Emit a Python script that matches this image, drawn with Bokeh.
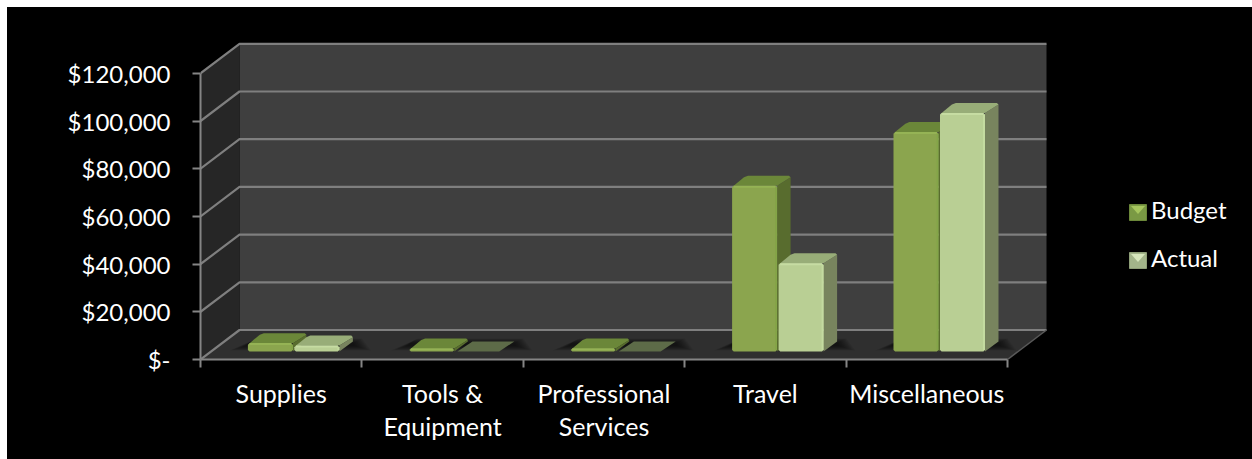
from bokeh.embed import file_html
from bokeh.models import FixedTicker, Legend, LegendItem, Range1d
from bokeh.plotting import figure
from bokeh.resources import INLINE

# Chart values
categories = ["Supplies", "Tools &\nEquipment", "Professional\nServices", "Travel", "Miscellaneous"]
budget = [3500, 1300, 1300, 69500, 92000]
actual = [2500, 0, 0, 37000, 100000]
y_ticks = [0, 20000, 40000, 60000, 80000, 100000, 120000]
y_labels = ["$-", "$20,000", "$40,000", "$60,000", "$80,000", "$100,000", "$120,000"]
series_names = ["Budget", "Actual"]

FONT = "Lato"

# Pixel geometry of the pseudo-3D box
WIDTH, HEIGHT = 1245, 452
LEFT, BASE = 193, 352            # frame origin inside the figure
CAT_PX = 161.4                   # one category along the front edge
TICK_PX = 47.7                   # one 20,000 step
sx = 1 / CAT_PX                  # category units per pixel
sy = 20000 / TICK_PX             # dollars per pixel

WALL_DX, WALL_DY = 39 * sx, 29.5 * sy      # box depth
FLOOR_DX, FLOOR_DY = 6.5 * sx, 8 * sy      # bar front plane relative to front edge
BAR_DX, BAR_DY = 13.5 * sx, 10 * sy        # bar depth
BAR_START = 47.4 * sx
BAR_W = 45 * sx
BAR_GAP = 1.5 * sx
R = 1.6                                    # bevel size in pixels

STYLE = {
    "Budget": dict(front="#8ba54e", edge="#84a548", hi="#95b355", top="#6b8739", side="#586c2e"),
    "Actual": dict(front="#b9cf94", edge="#c4dba0", hi="#c6dca2", top="#98ad78", side="#78845e"),
}
FLAT_TOP = "#5d6b48"

p = figure(
    width=WIDTH, height=HEIGHT, output_backend="svg", toolbar_location=None,
    x_range=Range1d(0, (WIDTH - LEFT) * sx), y_range=Range1d(0, BASE * sy),
    min_border_left=LEFT, min_border_top=0, min_border_right=0,
    min_border_bottom=HEIGHT - BASE, margin=(7, 0, 0, 7),
    background_fill_color=None, border_fill_color=None, outline_line_color=None,
    styles={"background-color": "black"},
)
p.grid.visible = False

# Box: back wall, side wall, floor
n = len(categories)
top = y_ticks[-1]
p.patch([WALL_DX, n + WALL_DX, n + WALL_DX, WALL_DX], [WALL_DY, WALL_DY, top + WALL_DY, top + WALL_DY],
        fill_color="#3f3f3f", line_color=None)
p.patch([0, WALL_DX, WALL_DX, 0], [0, WALL_DY, top + WALL_DY, top],
        fill_color="#262626", line_color=None)
p.patch([0, n, n + WALL_DX, WALL_DX], [0, 0, WALL_DY, WALL_DY],
        fill_color="#2f2f2f", line_color=None)

# Gridlines wrap from the side wall onto the back wall
for t in y_ticks:
    p.line([0, WALL_DX, n + WALL_DX], [t, t + WALL_DY, t + WALL_DY],
           line_color="#7f7f7f", line_width=2.2)
p.line([n, n + WALL_DX], [0, WALL_DY], line_color="#5a5a5a", line_width=1.5)

# Soft contact shadows on the floor, built from stacked translucent shapes
for i in range(n):
    x0 = i + BAR_START
    x1 = x0 + 2 * BAR_W + BAR_GAP
    y0 = FLOOR_DY
    layers = 10
    for k in range(layers):
        grow = (layers - k) * 1.8
        p.patch(
            [x0 - grow * sx, x1 + BAR_DX + grow * sx, x1 + BAR_DX + grow * 0.5 * sx, x0 + grow * 0.5 * sx],
            [y0 + (1 + k * 0.5) * sy, y0 + (1 + k * 0.5) * sy,
             y0 + (BAR_DY * 1.0) + (3 - k * 0.5) * sy, y0 + (BAR_DY * 1.0) + (3 - k * 0.5) * sy],
            fill_color="#000000", fill_alpha=0.07, line_color=None,
        )


def draw_bar(x, v, st):
    """One bar: top and side faces, then the front face with its bevel."""
    y0 = FLOOR_DY
    y1 = FLOOR_DY + v
    rx, ry = R * sx, R * sy
    if v == 0:
        p.patch([x + rx, x + BAR_W - rx, x + BAR_W + BAR_DX, x + BAR_DX + rx * 2],
                [y0, y0, y0 + BAR_DY, y0 + BAR_DY],
                fill_color=FLAT_TOP, line_color=None)
        return
    p.patch([x + BAR_W, x + BAR_W + BAR_DX, x + BAR_W + BAR_DX, x + BAR_W],
            [y0, y0 + BAR_DY, y1 + BAR_DY - ry, y1],
            fill_color=st["side"], line_color=None)
    p.patch([x + rx, x + BAR_W, x + BAR_W + BAR_DX, x + BAR_W + BAR_DX - rx,
             x + BAR_DX + rx * 1.5, x + BAR_DX - rx],
            [y1, y1, y1 + BAR_DY - ry, y1 + BAR_DY, y1 + BAR_DY, y1 + BAR_DY - ry],
            fill_color=st["top"], line_color=None)
    p.patch([x, x + rx, x + BAR_W - rx, x + BAR_W, x + BAR_W, x + BAR_W - rx, x + rx, x],
            [y0 + ry, y0, y0, y0 + ry, y1 - ry, y1, y1, y1 - ry],
            fill_color=st["front"], line_color=None)
    # Bevel highlights along the top and the right edge
    p.line([x + rx, x + BAR_W - rx], [y1 - 0.9 * sy, y1 - 0.9 * sy], line_color=st["hi"], line_width=2)
    p.line([x + BAR_W - 1 * sx, x + BAR_W - 1 * sx], [y0 + ry, y1 - ry], line_color=st["edge"], line_width=2)


for i in range(n):
    x = i + BAR_START
    draw_bar(x, budget[i], STYLE["Budget"])
    draw_bar(x + BAR_W + BAR_GAP, actual[i], STYLE["Actual"])

# Axes
yaxis = p.yaxis[0]
yaxis.ticker = FixedTicker(ticks=y_ticks, minor_ticks=[])
yaxis.major_label_overrides = dict(zip(y_ticks, y_labels))
yaxis.bounds = (0, top)
yaxis.major_tick_in = 0
yaxis.major_tick_out = 8
yaxis.major_label_standoff = 22
yaxis.axis_line_color = yaxis.major_tick_line_color = "#858585"
yaxis.axis_line_width = yaxis.major_tick_line_width = 2
yaxis.major_label_text_color = "white"
yaxis.major_label_text_font = FONT
yaxis.major_label_text_font_size = "24px"

xaxis = p.xaxis[0]
centers = [i + 0.5 for i in range(n)]
xaxis.ticker = FixedTicker(ticks=centers, minor_ticks=list(range(n + 1)))
xaxis.major_label_overrides = dict(zip(centers, categories))
xaxis.bounds = (0, n)
xaxis.major_tick_line_color = None
xaxis.major_tick_in = xaxis.major_tick_out = 0
xaxis.minor_tick_in = 0
xaxis.minor_tick_out = 8
xaxis.minor_tick_line_color = "#858585"
xaxis.minor_tick_line_width = 2
xaxis.axis_line_color = "#858585"
xaxis.axis_line_width = 2
xaxis.major_label_standoff = 10
xaxis.major_label_text_color = "white"
xaxis.major_label_text_font = FONT
xaxis.major_label_text_font_size = "25px"
xaxis.major_label_text_line_height = 1.1

# Legend: labels come from the Legend, the bevelled swatches are drawn beneath it
SWATCH = {"Budget": ("#7a9944", "#a6c65e", "#6b8739"), "Actual": ("#a3b58a", "#d6e6bc", "#8f9f78")}
key_b = p.quad(left=[0], right=[0], bottom=[0], top=[0], fill_alpha=0, line_alpha=0)
key_a = p.quad(left=[0], right=[0], bottom=[0], top=[0], fill_alpha=0, line_alpha=0)
legend = Legend(
    items=[LegendItem(label=series_names[0], renderers=[key_b]),
           LegendItem(label=series_names[1], renderers=[key_a])],
    location=(1129 - 200, 87),
    background_fill_alpha=0, border_line_color=None,
    glyph_width=16, glyph_height=16, spacing=19, padding=0, margin=0, label_standoff=6,
    label_text_color="white", label_text_font=FONT, label_text_font_size="24px",
)
p.add_layout(legend, "center")

for name, top_px in zip(series_names, (204, 252)):
    left, right = (1129 - 200) * sx, (1146 - 200) * sx
    y_hi, y_lo = (359 - top_px) * sy, (359 - top_px - 16) * sy
    p.quad(left=[left], right=[right], bottom=[y_lo], top=[y_hi],
           fill_color=SWATCH[name][0], line_color=SWATCH[name][2], line_width=1)
    p.patch([left + 1.5 * sx, right - 1.5 * sx, (left + right) / 2],
            [y_hi - 1.5 * sy, y_hi - 1.5 * sy, y_hi - 9.5 * sy],
            fill_color=SWATCH[name][1], line_color=None)

open("out.html", "w").write(file_html(p, INLINE))
